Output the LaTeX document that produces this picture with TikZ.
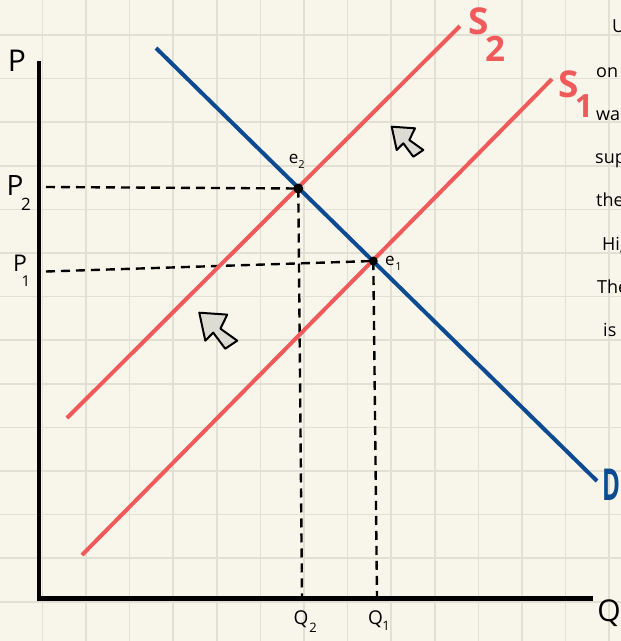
\documentclass[tikz,border=0pt]{standalone}
\usepackage{fontspec}
\setmainfont{Open Sans}
\definecolor{paper}{HTML}{F8F6EB}
\definecolor{gridc}{HTML}{E2E0D2}
\definecolor{sred}{HTML}{F05A5A}
\definecolor{dblue}{HTML}{0C4A92}
\definecolor{cursorfill}{HTML}{DCDCD2}
\tikzset{
  lbl/.style={inner sep=0pt, font=\fontsize{#1}{#1}\selectfont},
  boldlbl/.style={inner sep=0pt, font=\fontsize{#1}{#1}\selectfont\bfseries},
  axisline/.style={line width=4.3pt, line cap=butt},
  supply/.style={sred, line width=4pt},
  demand/.style={dblue, line width=4pt},
  guide/.style={line width=2.4pt, dash pattern=on 9pt off 6pt},
  dot/.style={circle, fill=black, inner sep=0pt, minimum size=#1},
  cursor/.style={draw=black, fill=cursorfill, line width=2pt, line join=round},
  gridline/.style={gridc, line width=1.5pt},
  sidetext/.style={inner sep=0pt, anchor=base west, font=\fontsize{18}{18}\selectfont}
}
\begin{document}
\begin{tikzpicture}[x=1pt,y=-1pt]
\useasboundingbox (0,0) rectangle (621,641);
\fill[paper] (0,0) rectangle (621,641);
\clip (0,0) rectangle (621,641);
% grid
\foreach \k in {1,...,14} {
  \draw[gridline] ({-1.2+43.6*\k},0) -- ({-1.2+43.6*\k},641);
  \draw[gridline] (0,{-8.6+43.6*\k}) -- (621,{-8.6+43.6*\k});
}
% key points
\coordinate (o) at (38.8,598.5);
\coordinate (ptop) at (38.8,61);
\coordinate (qend) at (593,598.5);
\coordinate (d0) at (156,48);
\coordinate (d1) at (597,481);
\coordinate (s2a) at (67,418);
\coordinate (s2b) at (460,26);
\coordinate (s1a) at (82,555);
\coordinate (s1b) at (552,79);
\coordinate (e2) at (298.3,188.5);
\coordinate (e1) at (373.3,261);
\coordinate (p2l) at (46,187);
\coordinate (p1l) at (46,271.5);
\coordinate (q2b) at (302,596);
\coordinate (q1b) at (377,596);
% axes
\draw[axisline] (ptop) -- (o) -- (qend);
% guides
\draw[guide] (p2l) -- (e2);
\draw[guide] (p1l) -- (e1);
\draw[guide] (e2) -- (q2b);
\draw[guide] (e1) -- (q1b);
% curves
\draw[supply] (s2a) -- (s2b);
\draw[supply] (s1a) -- (s1b);
\draw[demand] (d0) -- (d1);
% equilibrium dots
\node[dot=10pt] (e2dot) at (e2) {};
\node[dot=9pt] (e1dot) at (e1) {};
% cursors
\draw[cursor, shift={(391.7,126.7)}] (0,0) -- (5,23.3) -- (11.6,16.6) -- (21.6,30) -- (31.6,23.3) -- (17.6,13.3) -- (23.3,1.6) -- cycle;
\draw[cursor, shift={(199.3,312.7)}, scale=1.2] (0,0) -- (5,23.3) -- (11.6,16.6) -- (21.6,30) -- (31.6,23.3) -- (17.6,13.3) -- (23.3,1.6) -- cycle;
% axis labels
\node[lbl=30] (plab) at (17,61) {P};
\node[lbl=30] (qlab) at (609,613) {Q};
\node[lbl=28] (p2) at (15,186) {P};
\node[lbl=17] (p2s) at (26,204) {2};
\node[lbl=23] (p1) at (20,263) {P};
\node[lbl=15] (p1s) at (26,281) {1};
\node[lbl=19] (q2) at (301,619) {Q};
\node[lbl=13] (q2s) at (313,628) {2};
\node[lbl=19] (q1) at (375.5,619) {Q};
\node[lbl=13] (q1s) at (386,625.5) {1};
% equilibrium labels
\node[lbl=17] (e2l) at (293.7,159) {e};
\node[lbl=11] (e2s) at (301.5,164.5) {2};
\node[lbl=17] (e1l) at (390,261) {e};
\node[lbl=11] (e1s) at (398.5,266.5) {1};
% curve labels
\node[boldlbl=37, text=sred] (s2l) at (478.5,21) {S};
\node[boldlbl=35, text=sred] (s2s) at (495,48.5) {2};
\node[boldlbl=37, text=sred] (s1l) at (569,84) {S};
\node[boldlbl=32, text=sred] (s1s) at (584,106) {1};
\node[boldlbl=44, text=dblue, xscale=0.55] (dl) at (611.5,485) {D};
% side text (cut by the edge)
\node[sidetext] (t0) at (612,32) {U};
\node[sidetext] (t1) at (596,77) {on};
\node[sidetext] (t2) at (596,120) {wa};
\node[sidetext] (t3) at (595,163) {sup};
\node[sidetext] (t4) at (596,206.5) {the};
\node[sidetext] (t5) at (602,250) {Hig};
\node[sidetext] (t6) at (597,293) {The};
\node[sidetext] (t7) at (603,336.5) {is};
\end{tikzpicture}
\end{document}
